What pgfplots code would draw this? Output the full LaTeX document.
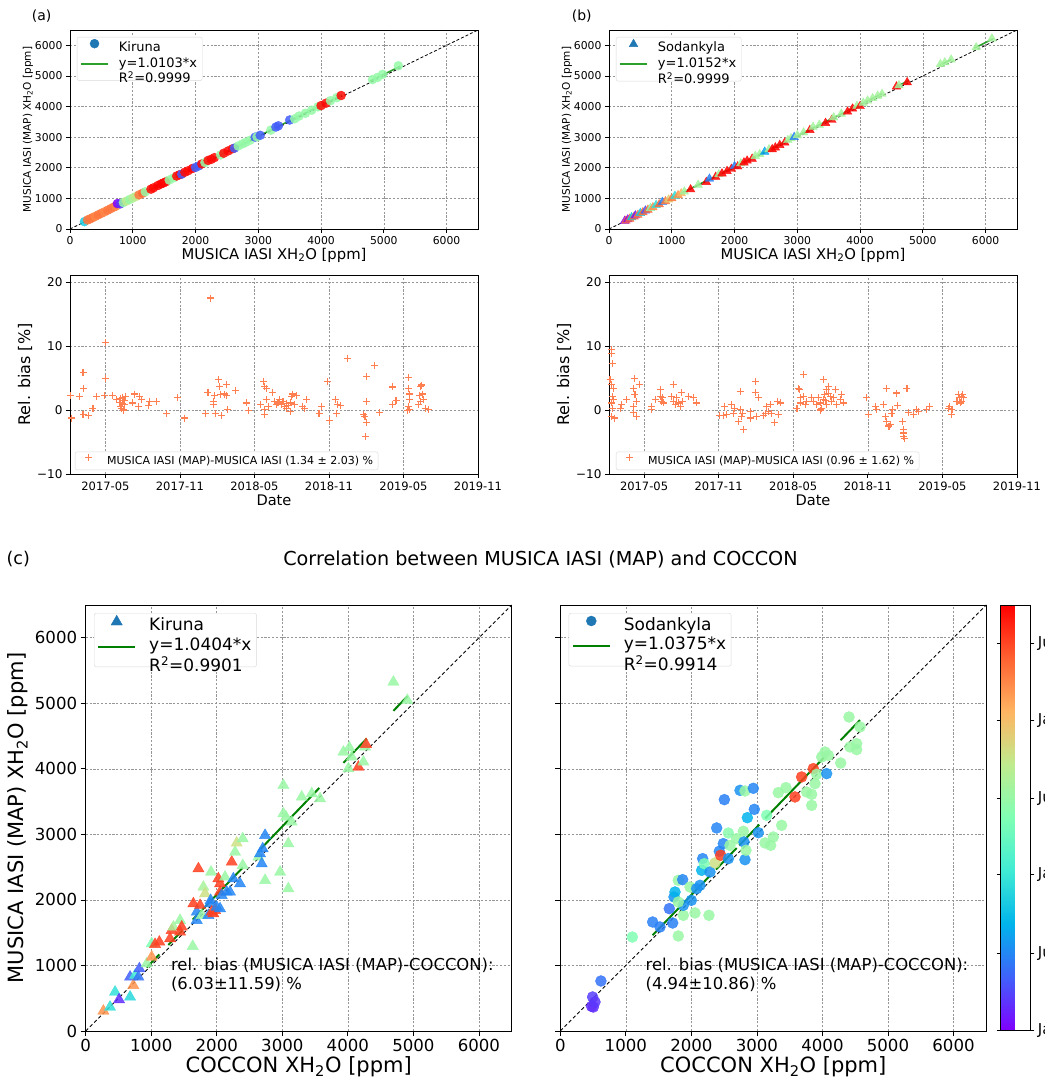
\documentclass[border=0pt]{standalone}
\usepackage{pgfplots}
\pgfplotsset{compat=1.18}
\usepackage{pgfplotstable}
\usepackage{fontspec}
\setmainfont{DejaVu Sans}

\definecolor{mplblue}{HTML}{1F77B4}
\definecolor{coral}{RGB}{255,127,80}
\definecolor{tabgreen}{HTML}{2CA02C}
\definecolor{mplgreen}{HTML}{008000}
\definecolor{gridgray}{RGB}{150,150,150}

\pgfplotsset{
 colormap={mplrainbow}{rgb=(0.5,0,1) rgb=(0.25,0.383,0.981) rgb=(0,0.707,0.924) rgb=(0.25,0.924,0.831) rgb=(0.5,1,0.707) rgb=(0.75,0.924,0.556) rgb=(1,0.707,0.383) rgb=(1,0.383,0.195) rgb=(1,0,0)},
 mplbase/.style={scale only axis, anchor=south west, axis line style={line width=0.8pt}, tick align=outside, xtick pos=bottom, ytick pos=left, major tick length=4pt, tick style={black, line width=0.8pt}, grid=major, grid style={gridgray, line width=0.6pt, dash pattern=on 2.2pt off 1.6pt}, /pgf/number format/assume math mode=true, /pgf/number format/1000 sep={}, legend cell align=left},
 mklegend/.style n args={2}{legend image code/.code={\path (0pt,0pt) (#1+#2,0pt); \draw[##1] plot coordinates {(#1/2,0.35em)};}},
 lnlegend/.style n args={2}{legend image code/.code={\path (0pt,0pt) (#1+#2,0pt); \draw[##1] (0pt,0.3em) -- (#1,0.3em);}},
 mplleg/.style={draw=black!15, rounded corners=2pt, fill=white},
 scat/.style={scatter, only marks, scatter src=explicit, forget plot, scatter/use mapped color={draw=mapped color, fill=mapped color}, mark options={fill opacity=0.85, draw opacity=0.85}},
}

\pgfplotstableread{
x y c
230 240 0.35
280 295 0.8
320 330 0.8
360 372 0.8
400 410 0.78
450 462 0.8
500 512 0.8
550 560 0.78
600 612 0.8
650 665 0.8
700 718 0.8
730 745 0.78
755 830 0.1
800 820 0.15
850 862 0.55
900 912 0.62
950 962 0.55
1000 1012 0.6
1050 1062 0.62
1100 1115 0.8
1160 1170 0.82
1200 1215 0.55
1290 1300 0.92
1330 1345 0.92
1400 1420 0.93
1450 1470 0.93
1490 1505 0.93
1530 1545 0.92
1580 1600 0.55
1650 1670 0.55
1700 1730 0.92
1750 1775 0.92
1780 1790 0.2
1830 1855 0.92
1880 1900 0.92
1950 1975 0.93
2000 2010 0.2
2050 2060 0.2
2100 2125 0.92
2150 2170 0.55
2200 2240 0.92
2250 2275 0.92
2300 2330 0.92
2400 2420 0.55
2450 2475 0.92
2520 2550 0.92
2590 2620 0.92
2620 2640 0.2
2680 2710 0.55
2750 2780 0.55
2800 2830 0.55
2870 2900 0.55
2950 3000 0.2
2980 3010 0.55
3030 3060 0.2
3200 3230 0.55
3280 3330 0.2
3320 3370 0.2
3500 3560 0.2
3580 3600 0.55
3650 3690 0.55
3750 3780 0.55
3850 3880 0.55
3950 3990 0.55
4000 4030 0.92
4080 4110 0.92
4150 4190 0.55
4250 4290 0.55
4320 4360 0.92
4820 4880 0.55
4900 4950 0.55
4980 5050 0.55
5230 5330 0.55
}\KirTop

\pgfplotstableread{
x y c
250 260 0.05
270 270 0.8
300 310 0.05
330 330 0.8
360 380 0.3
400 400 0.8
420 440 0.08
460 460 0.78
500 520 0.3
540 545 0.8
580 600 0.15
620 625 0.8
660 680 0.5
700 705 0.75
750 780 0.35
800 800 0.8
850 880 0.2
900 900 0.78
950 960 0.65
1000 1000 0.78
1050 1080 0.35
1100 1100 0.75
1150 1160 0.7
1200 1220 0.55
1300 1290 0.92
1420 1440 0.55
1550 1530 0.92
1600 1640 0.2
1700 1700 0.92
1750 1780 0.55
1800 1810 0.92
1880 1890 0.92
1950 1960 0.92
2000 2050 0.2
2050 2040 0.92
2100 2140 0.55
2150 2170 0.92
2200 2230 0.92
2280 2290 0.92
2330 2380 0.55
2400 2440 0.55
2480 2520 0.25
2550 2600 0.55
2600 2600 0.92
2650 2660 0.92
2720 2740 0.92
2800 2820 0.92
2850 2900 0.55
2900 2960 0.55
2950 3000 0.2
3000 3060 0.55
3100 3150 0.55
3200 3230 0.92
3250 3330 0.55
3350 3400 0.55
3450 3460 0.92
3550 3560 0.92
3580 3640 0.55
3700 3760 0.55
3800 3830 0.92
3880 3930 0.92
3950 4020 0.55
4000 4010 0.92
4050 4120 0.55
4120 4190 0.55
4200 4270 0.55
4280 4350 0.55
4350 4410 0.55
4580 4650 0.92
4620 4690 0.55
4750 4790 0.92
5280 5380 0.55
5350 5440 0.55
5450 5530 0.55
5850 5930 0.55
6100 6220 0.55
}\SodTop

\pgfplotstableread{
x y
1.26 -1.25
1.18 2.2
1.93 2.1
2.2 5.9
2.26 3.3
2.2 -0.7
2.66 -0.8
3.0 0.3
3.27 2.1
4.0 10.5
4.0 4.9
3.95 2.2
4.54 2.3
4.9 1.6
5.1 1.2
5.2 0.6
5.25 1.8
5.3 0.3
5.35 2.0
5.4 1.0
5.45 0.0
5.5 1.5
5.55 0.8
5.6 2.1
6.36 2.5
6.2 1.1
6.76 2.1
6.9 1.6
6.7 0.6
7.57 1.35
7.5 0.7
8.1 1.35
8.9 -0.6
9.77 1.9
10.4 -1.25
12.08 -0.5
12.26 2.8
12.48 17.5
12.67 0.8
12.67 1.35
12.8 2.2
12.88 -0.6
13.12 4.8
13.2 3.7
13.26 2.4
13.34 -0.9
13.6 2.5
13.74 4.0
13.74 2.2
13.8 0.05
14.5 3.0
15.35 1.1
15.5 -0.1
16.5 0.8
16.75 4.5
16.8 3.7
16.96 3.4
16.8 0.05
16.8 -0.7
16.96 1.6
17.1 0.6
17.44 2.8
17.6 1.35
17.75 0.8
17.9 1.1
18.0 1.6
18.15 0.8
18.3 1.3
18.45 0.5
18.55 1.0
18.6 0.2
18.75 0.7
18.9 -0.2
18.9 1.1
19.0 2.1
19.1 2.5
19.2 0.8
19.4 2.2
19.9 0.6
20.2 1.6
20.05 0.3
21.2 -0.5
21.4 0.6
21.9 4.4
22.06 -1.6
22.5 1.6
22.6 -0.5
22.7 0.8
22.9 0.7
23.5 8.1
24.8 -0.7
24.9 -1.0
25.0 5.3
25.0 1.35
25.0 -2.0
24.95 -4.2
25.7 7.0
26.1 -0.4
27.1 3.6
27.1 0.8
27.4 1.5
28.4 5.1
28.4 3.4
28.45 2.5
28.5 1.6
28.4 0.6
28.35 -0.1
28.5 0.05
29.2 0.8
29.35 1.35
29.3 2.2
29.4 3.7
29.5 2.5
29.6 1.6
29.45 3.9
29.8 0.3
30.0 0.05
}\KirBias

\pgfplotstableread{
x y
1.26 4.7
1.4 9.4
1.4 8.9
1.48 7.2
1.4 4.0
1.53 3.4
1.48 2.1
1.4 1.1
1.48 0.3
1.4 -1.0
1.6 -1.25
1.53 1.6
2.07 0.3
2.2 0.8
2.6 1.6
3.14 0.6
3.14 3.4
3.2 4.9
3.27 2.4
3.14 -0.4
3.4 -1.0
3.6 4.0
3.4 1.35
4.6 0.6
4.6 0.05
4.9 1.6
5.3 3.2
5.34 2.1
5.4 1.35
5.55 1.1
5.5 1.9
6.2 2.1
6.36 4.0
6.36 1.35
6.5 0.8
6.63 1.9
6.76 1.1
6.9 0.6
7.03 2.7
7.1 1.35
7.57 2.1
7.97 1.9
8.2 1.1
10.1 -0.8
10.4 -0.8
10.5 0.6
10.65 -0.7
11.06 0.8
11.2 -0.6
11.27 0.3
11.6 -1.8
11.73 2.9
11.73 0.05
11.86 -1.0
12.0 -3.0
11.94 -0.5
12.53 -1.25
12.53 -0.2
12.93 4.5
12.93 2.7
13.2 1.9
13.07 -1.0
13.6 -0.9
13.74 -0.5
13.87 0.6
14.0 -0.2
14.14 0.8
14.27 -0.5
14.5 -2.0
14.7 1.35
14.8 -0.7
14.95 1.1
16.3 0.3
16.4 3.4
16.56 1.9
16.5 3.2
16.56 1.1
16.8 5.5
16.8 2.1
16.96 0.8
17.1 1.35
17.5 1.9
17.6 1.35
17.9 0.8
18.03 1.9
18.17 1.1
18.3 0.3
18.4 1.6
18.44 4.7
18.5 2.4
18.65 3.2
18.7 0.8
18.84 3.7
18.97 2.1
19.1 1.35
19.24 1.9
19.4 3.2
19.5 0.8
19.8 1.6
19.9 2.4
20.05 1.1
18.2 0.0
18.6 1.5
18.8 2.6
21.9 1.9
22.06 -0.7
22.6 0.6
22.7 0.05
23.26 0.8
23.4 -1.0
23.5 3.3
23.5 -1.8
23.7 -2.5
23.8 -2.3
23.94 -0.5
24.0 0.05
24.3 2.65
24.4 0.7
24.8 -1.8
24.9 -3.1
24.9 -3.6
24.9 -4.1
24.95 -4.4
25.15 3.4
25.3 -0.4
25.7 -0.7
25.9 0.05
26.1 -0.2
26.75 0.05
26.97 0.6
28.5 0.3
28.6 0.6
28.7 -0.7
28.77 0.05
29.17 1.35
29.3 2.4
29.4 1.9
29.44 1.1
29.5 2.1
29.57 1.35
29.65 2.4
29.7 1.9
}\SodBias

\pgfplotstableread{
x y c
270 305 0.8
371 366 0.35
448 595 0.35
509 478 0.06
677 519 0.33
677 824 0.12
727 697 0.8
753 850 0.38
804 824 0.15
819 951 0.12
931 1027 0.55
1007 1129 0.8
1007 1333 0.5
1058 1322 0.92
1124 1358 0.92
1287 1409 0.92
1312 1536 0.92
1338 1587 0.58
1440 1511 0.92
1440 1689 0.55
1465 1587 0.92
1633 1292 0.55
1643 1943 0.92
1694 1816 0.18
1694 1689 0.18
1720 2477 0.92
1745 1918 0.92
1770 1765 0.55
1796 2197 0.58
1821 2096 0.65
1872 1765 0.18
1897 1943 0.18
1907 1994 0.18
1923 1816 0.92
1948 1790 0.92
1974 1841 0.92
1912 2426 0.55
1999 1892 0.18
2050 1867 0.18
2024 2324 0.92
2050 2248 0.92
2050 2121 0.92
2075 2070 0.18
2126 2350 0.55
2151 2121 0.18
2202 2121 0.18
2228 2579 0.92
2253 2324 0.18
2279 2731 0.55
2304 2869 0.65
2355 2248 0.18
2396 2935 0.55
2396 2528 0.55
2635 2655 0.55
2660 2706 0.18
2686 2553 0.18
2701 2782 0.18
2737 2986 0.18
2737 2299 0.55
2966 2426 0.55
3016 3749 0.55
3016 3316 0.55
3057 3265 0.55
3092 2859 0.55
3092 2172 0.55
3143 3189 0.55
3296 3571 0.55
3449 3622 0.55
3576 3545 0.55
3932 4257 0.55
4008 4003 0.55
4023 4323 0.55
4059 4181 0.55
4161 4028 0.92
4237 4105 0.55
4262 4334 0.55
4278 4374 0.92
4695 5325 0.55
4908 5046 0.55
}\KirBot

\pgfplotstableread{
x y c
478 376 0.06
504 366 0.06
493 519 0.08
529 443 0.07
620 763 0.15
1099 1434 0.5
1409 1663 0.17
1521 1587 0.17
1663 1867 0.15
1714 1648 0.17
1735 2045 0.2
1750 2121 0.25
1800 2299 0.55
1800 1450 0.55
1867 2309 0.18
1877 1765 0.55
1877 1918 0.2
1800 1968 0.55
1979 2197 0.55
1999 1994 0.2
2055 1801 0.55
2080 2172 0.2
2131 2223 0.2
2157 2452 0.25
2172 2630 0.18
2197 2553 0.5
2268 1765 0.55
2284 2426 0.2
2360 2564 0.65
2386 3098 0.18
2426 2742 0.18
2447 2681 0.92
2487 2859 0.18
2503 3530 0.17
2564 3021 0.52
2564 2630 0.2
2589 2833 0.55
2691 2935 0.55
2742 3672 0.2
2793 3047 0.55
2803 2884 0.2
2818 3662 0.55
2818 2614 0.2
2833 2757 0.55
2854 3255 0.25
2945 3703 0.18
2960 3382 0.18
3021 3026 0.2
3123 2869 0.55
3149 3291 0.5
3210 2833 0.55
3250 2960 0.55
3326 3637 0.55
3377 3138 0.55
3443 3713 0.55
3581 3571 0.92
3682 3876 0.92
3758 3647 0.55
3835 3443 0.55
3835 3611 0.55
3860 4003 0.92
3886 3774 0.55
3911 3916 0.55
3988 4181 0.55
4039 4257 0.55
4064 3927 0.2
4090 4206 0.55
4278 4089 0.55
4405 4791 0.55
4420 4334 0.55
4522 4384 0.55
4522 4293 0.55
4573 4639 0.55
}\SodBot

\begin{document}
\begin{tikzpicture}
\useasboundingbox (0pt,0pt) rectangle (1044pt,1081pt);

% ---------- (a) top left ----------
\begin{axis}[mplbase, at={(70pt,852pt)}, width=408pt, height=199pt,
  xmin=0, xmax=6500, ymin=0, ymax=6500,
  xtick={0,1000,...,6000}, ytick={0,1000,...,6000},
  tick label style={font=\fontsize{10.8}{13}\selectfont},
  xlabel={MUSICA IASI XH\textsubscript{2}O [ppm]},
  xlabel style={font=\fontsize{14.8}{17}\selectfont, at={(axis description cs:0.5,-0.131)}, anchor=center},
  ylabel={MUSICA IASI (MAP) XH\textsubscript{2}O [ppm]},
  ylabel style={font=\fontsize{10.5}{12}\selectfont, at={(axis description cs:-0.103,0.5)}, anchor=center},
  legend style={mplleg, at={(0.017,0.965)}, anchor=north west, font=\fontsize{13}{15}\selectfont}]
\addlegendimage{mark=*, mark size=4.5pt, color=mplblue, mklegend={27pt}{8pt}}
\addlegendentry{Kiruna}
\addlegendimage{tabgreen, line width=1.8pt, lnlegend={27pt}{8pt}}
\addlegendentry{\begin{tabular}{@{}l@{}}y=1.0103*x\\R\textsuperscript{2}=0.9999\end{tabular}}
\addplot[scat, mark=*, mark size=4.5pt] table[x=x, y=y, meta=c] {\KirTop};
\addplot[tabgreen, line width=1.5pt, forget plot] coordinates {(200,202) (4330,4375)};
\addplot[tabgreen, line width=1.5pt, forget plot] coordinates {(4780,4829) (5260,5314)};
\addplot[black, line width=0.8pt, dash pattern=on 3pt off 2pt, forget plot] coordinates {(0,0) (6500,6500)};
\end{axis}

% ---------- (b) top right ----------
\begin{axis}[mplbase, at={(609pt,852pt)}, width=408pt, height=199pt,
  xmin=0, xmax=6500, ymin=0, ymax=6500,
  xtick={0,1000,...,6000}, ytick={0,1000,...,6000},
  tick label style={font=\fontsize{10.8}{13}\selectfont},
  xlabel={MUSICA IASI XH\textsubscript{2}O [ppm]},
  xlabel style={font=\fontsize{14.8}{17}\selectfont, at={(axis description cs:0.5,-0.131)}, anchor=center},
  ylabel={MUSICA IASI (MAP) XH\textsubscript{2}O [ppm]},
  ylabel style={font=\fontsize{10.5}{12}\selectfont, at={(axis description cs:-0.103,0.5)}, anchor=center},
  legend style={mplleg, at={(0.017,0.965)}, anchor=north west, font=\fontsize{13}{15}\selectfont}]
\addlegendimage{mark=triangle*, mark size=5pt, color=mplblue, mklegend={27pt}{8pt}}
\addlegendentry{Sodankyla}
\addlegendimage{tabgreen, line width=1.8pt, lnlegend={27pt}{8pt}}
\addlegendentry{\begin{tabular}{@{}l@{}}y=1.0152*x\\R\textsuperscript{2}=0.9999\end{tabular}}
\addplot[scat, mark=triangle*, mark size=5pt] table[x=x, y=y, meta=c] {\SodTop};
\addplot[tabgreen, line width=1.5pt, forget plot] coordinates {(280,284) (4350,4416)};
\addplot[tabgreen, line width=1.5pt, forget plot] coordinates {(4560,4629) (4780,4853)};
\addplot[tabgreen, line width=1.5pt, forget plot] coordinates {(5270,5350) (5450,5533)};
\addplot[tabgreen, line width=1.5pt, forget plot] coordinates {(5820,5908) (6120,6213)};
\addplot[black, line width=0.8pt, dash pattern=on 3pt off 2pt, forget plot] coordinates {(0,0) (6500,6500)};
\end{axis}

% ---------- bias left ----------
\begin{axis}[mplbase, at={(70pt,607pt)}, width=408pt, height=199pt,
  xmin=1.15, xmax=34, ymin=-10, ymax=21.1,
  xtick={4,10,16,22,28,34}, xticklabels={2017-05,2017-11,2018-05,2018-11,2019-05,2019-11},
  ytick={-10,0,10,20}, yticklabels={−10,0,10,20},
  xticklabel style={font=\fontsize{11.5}{13}\selectfont},
  yticklabel style={font=\fontsize{12}{14}\selectfont},
  xlabel={Date},
  xlabel style={font=\fontsize{14.6}{17}\selectfont, at={(axis description cs:0.5,-0.131)}, anchor=center},
  ylabel={Rel. bias [\%]},
  ylabel style={font=\fontsize{16}{18}\selectfont, at={(axis description cs:-0.110,0.5)}, anchor=center},
  legend style={mplleg, at={(0.012,0.02)}, anchor=south west, font=\fontsize{11}{12}\selectfont}]
\addlegendimage{only marks, mark=+, mark size=3.5pt, color=coral, line width=1.1pt, mklegend={20pt}{6pt}}
\addlegendentry{MUSICA IASI (MAP)-MUSICA IASI (1.34 ± 2.03) \%}
\addplot[only marks, mark=+, mark size=3.5pt, color=coral, line width=1.1pt, forget plot] table[x=x, y=y] {\KirBias};
\end{axis}

% ---------- bias right ----------
\begin{axis}[mplbase, at={(609pt,607pt)}, width=408pt, height=199pt,
  xmin=1.18, xmax=34, ymin=-10, ymax=21.1,
  xtick={4,10,16,22,28,34}, xticklabels={2017-05,2017-11,2018-05,2018-11,2019-05,2019-11},
  ytick={-10,0,10,20}, yticklabels={−10,0,10,20},
  xticklabel style={font=\fontsize{11.5}{13}\selectfont},
  yticklabel style={font=\fontsize{12}{14}\selectfont},
  xlabel={Date},
  xlabel style={font=\fontsize{14.6}{17}\selectfont, at={(axis description cs:0.5,-0.131)}, anchor=center},
  ylabel={Rel. bias [\%]},
  ylabel style={font=\fontsize{16}{18}\selectfont, at={(axis description cs:-0.110,0.5)}, anchor=center},
  legend style={mplleg, at={(0.017,0.02)}, anchor=south west, font=\fontsize{11}{12}\selectfont}]
\addlegendimage{only marks, mark=+, mark size=3.5pt, color=coral, line width=1.1pt, mklegend={20pt}{6pt}}
\addlegendentry{MUSICA IASI (MAP)-MUSICA IASI (0.96 ± 1.62) \%}
\addplot[only marks, mark=+, mark size=3.5pt, color=coral, line width=1.1pt, forget plot] table[x=x, y=y] {\SodBias};
\end{axis}

% ---------- (c) bottom left ----------
\begin{axis}[mplbase, at={(85.7pt,50pt)}, width=426pt, height=426pt,
  xmin=0, xmax=6500, ymin=0, ymax=6500, major tick length=5pt,
  xtick={0,1000,...,6000}, ytick={0,1000,...,6000},
  tick label style={font=\fontsize{16.6}{19}\selectfont},
  xlabel={COCCON XH\textsubscript{2}O [ppm]},
  xlabel style={font=\fontsize{21}{24}\selectfont, at={(axis description cs:0.5,-0.0845)}, anchor=center},
  ylabel={MUSICA IASI (MAP) XH\textsubscript{2}O [ppm]},
  ylabel style={font=\fontsize{21}{24}\selectfont, at={(axis description cs:-0.159,0.5)}, anchor=center},
  point meta min=0, point meta max=1,
  legend style={mplleg, at={(0.0195,0.981)}, anchor=north west, font=\fontsize{17}{20}\selectfont}]
\addlegendimage{mark=triangle*, mark size=6.5pt, color=mplblue, mklegend={37pt}{11pt}}
\addlegendentry{Kiruna}
\addlegendimage{mplgreen, line width=2pt, lnlegend={37pt}{11pt}}
\addlegendentry{\begin{tabular}{@{}l@{}}y=1.0404*x\\R\textsuperscript{2}=0.9901\end{tabular}}
\addplot[scat, mark=triangle*, mark size=6.5pt] table[x=x, y=y, meta=c] {\KirBot};
\addplot[mplgreen, line width=2pt, forget plot] coordinates {(930,968) (1124,1169)};
\addplot[mplgreen, line width=2pt, forget plot] coordinates {(1261,1312) (1480,1540)};
\addplot[mplgreen, line width=2pt, forget plot] coordinates {(1633,1699) (2396,2493)};
\addplot[mplgreen, line width=2pt, forget plot] coordinates {(2675,2783) (3565,3709)};
\addplot[mplgreen, line width=2pt, forget plot] coordinates {(3932,4091) (4288,4461)};
\addplot[mplgreen, line width=2pt, forget plot] coordinates {(4695,4885) (4908,5106)};
\addplot[black, line width=0.9pt, dash pattern=on 3.5pt off 2.5pt, forget plot] coordinates {(0,0) (6500,6500)};
\node[anchor=north west, inner sep=0pt, align=left, font=\fontsize{16.4}{19}\selectfont] at (axis cs:1300,1115) {rel. bias (MUSICA IASI (MAP)-COCCON):\\(6.03±11.59) \%};
\end{axis}

% ---------- (c) bottom right ----------
\begin{axis}[mplbase, at={(560.3pt,50pt)}, width=426pt, height=426pt,
  xmin=0, xmax=6500, ymin=0, ymax=6500, major tick length=5pt,
  xtick={0,1000,...,6000}, ytick={0,1000,...,6000}, yticklabels={},
  tick label style={font=\fontsize{16.6}{19}\selectfont},
  xlabel={COCCON XH\textsubscript{2}O [ppm]},
  xlabel style={font=\fontsize{21}{24}\selectfont, at={(axis description cs:0.5,-0.0845)}, anchor=center},
  point meta min=0, point meta max=1,
  colorbar,
  colorbar style={at={(1.0338,1)}, anchor=north west, scale only axis, width=29.6pt, height=425pt,
    ytick={0,0.181,0.365,0.546,0.729,0.9106},
    yticklabels={Jan 2017,Jul 2017,Jan 2018,Jul 2018,Jan 2019,Jul 2019},
    yticklabel style={font=\fontsize{15}{18}\selectfont},
    tick align=outside, major tick length=4pt, tick style={black, line width=0.8pt},
    axis line style={line width=0.8pt}},
  legend style={mplleg, at={(0.0195,0.981)}, anchor=north west, font=\fontsize{17}{20}\selectfont}]
\addlegendimage{mark=*, mark size=5pt, color=mplblue, mklegend={37pt}{11pt}}
\addlegendentry{Sodankyla}
\addlegendimage{mplgreen, line width=2pt, lnlegend={37pt}{11pt}}
\addlegendentry{\begin{tabular}{@{}l@{}}y=1.0375*x\\R\textsuperscript{2}=0.9914\end{tabular}}
\addplot[scat, mark=*, mark size=5.5pt] table[x=x, y=y, meta=c] {\SodBot};
\addplot[mplgreen, line width=2pt, forget plot] coordinates {(1409,1462) (2284,2370)};
\addplot[mplgreen, line width=2pt, forget plot] coordinates {(2375,2464) (2690,2791)};
\addplot[mplgreen, line width=2pt, forget plot] coordinates {(2731,2833) (3036,3150)};
\addplot[mplgreen, line width=2pt, forget plot] coordinates {(3128,3245) (4064,4216)};
\addplot[mplgreen, line width=2pt, forget plot] coordinates {(4277,4437) (4572,4743)};
\addplot[black, line width=0.9pt, dash pattern=on 3.5pt off 2.5pt, forget plot] coordinates {(0,0) (6500,6500)};
\node[anchor=north west, inner sep=0pt, align=left, font=\fontsize{16.4}{19}\selectfont] at (axis cs:1300,1115) {rel. bias (MUSICA IASI (MAP)-COCCON):\\(4.94±10.86) \%};
\end{axis}

% ---------- panel labels and title ----------
\node[font=\fontsize{14}{16}\selectfont] at (41.7pt,1065pt) {(a)};
\node[font=\fontsize{14}{16}\selectfont] at (581.7pt,1065pt) {(b)};
\node[font=\fontsize{17.5}{20}\selectfont] at (18.3pt,522pt) {(c)};
\node[font=\fontsize{19.2}{22}\selectfont] at (540.5pt,522pt) {Correlation between MUSICA IASI (MAP) and COCCON};
\end{tikzpicture}
\end{document}
